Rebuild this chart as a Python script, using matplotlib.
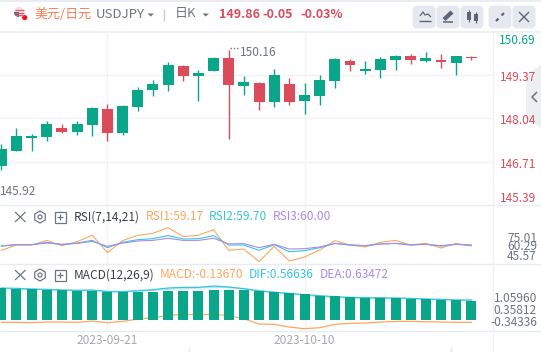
import matplotlib
matplotlib.use('Agg')
import matplotlib.pyplot as plt
from matplotlib.patches import FancyBboxPatch, Polygon, Circle, Rectangle, RegularPolygon, Wedge

plt.rcParams['font.family'] = ['Noto Sans CJK SC', 'DejaVu Sans']

# ---------- data ----------
opens  = [146.57,147.03,147.43,147.46,147.74,147.62,147.83,148.33,147.59,148.39,148.92,149.07,149.66,149.35,149.50,149.91,
          149.04,149.13,148.55,149.10,148.58,148.73,149.19,149.81,149.50,149.53,149.84,149.97,149.81,149.84,149.75,149.94]
closes = [147.09,147.49,147.49,147.86,147.62,147.86,148.36,147.59,148.42,148.92,149.10,149.69,149.35,149.44,149.91,149.07,
          149.16,148.55,149.38,148.55,148.76,149.23,149.88,149.69,149.57,149.88,149.97,149.84,149.91,149.78,149.97,149.91]
highs  = [147.25,147.74,147.56,147.96,147.86,147.96,148.39,148.48,148.45,149.01,149.23,149.78,149.69,149.53,149.94,150.16,
          149.35,149.16,149.57,149.29,149.13,149.38,149.91,149.88,149.81,149.94,150.00,150.03,150.09,150.03,149.97,149.97]
lows   = [146.44,147.03,147.03,147.34,147.58,147.52,147.49,147.34,147.52,148.27,148.73,148.89,149.19,148.58,149.50,147.40,
          148.76,148.30,148.39,148.45,148.17,148.45,148.98,149.50,149.41,149.29,149.53,149.72,149.78,149.60,149.38,149.84]

rsi1 = [55.4,60.0,60.0,64.0,59.4,62.9,68.4,53.4,63.8,68.4,70.1,75.0,67.2,68.4,73.3,55.4,
        56.5,45.6,58.8,46.1,49.6,55.7,63.8,60.0,58.3,62.3,64.0,60.0,61.4,57.4,61.4,59.17]
rsi2 = [59.1,60.3,60.3,62.3,60.3,61.7,64.0,57.7,62.3,64.6,65.5,68.1,65.2,65.5,68.1,60.0,
        60.0,55.4,60.3,54.2,55.1,57.7,61.4,60.0,59.4,60.9,61.4,60.0,60.6,59.1,60.6,59.70]
rsi3 = [59.1,60.3,60.3,61.7,60.6,61.4,63.2,58.8,61.7,63.5,64.0,65.8,64.0,64.0,65.8,60.9,
        61.2,57.7,60.6,56.5,56.8,58.3,61.4,60.0,59.4,60.9,61.4,60.3,60.6,59.4,60.6,60.00]

macd_bars = [.909,.890,.881,.862,.852,.833,.833,.805,.805,.795,.795,.824,.824,.824,.852,.852,
             .862,.824,.795,.767,.739,.682,.682,.653,.625,.625,.625,.597,.597,.568,.568,.540]
dif = [.909,.900,.881,.871,.852,.843,.852,.805,.805,.833,.862,.909,.928,.928,.966,.938,
       .890,.824,.786,.758,.720,.691,.663,.644,.634,.634,.625,.616,.597,.587,.568,.566]
dea = [.890,.881,.871,.862,.852,.843,.843,.824,.814,.824,.843,.871,.890,.909,.928,.919,
       .890,.843,.795,.748,.701,.663,.634,.625,.616,.616,.606,.606,.587,.578,.568,.568]
macd = [-.066,-.066,-.076,-.057,-.057,-.066,-.028,-.076,-.038,.028,.066,.133,.161,.152,.161,.123,
        .038,-.114,-.123,-.199,-.246,-.218,-.123,-.095,-.085,-.057,-.038,-.038,-.047,-.057,-.066,-.066]

price_ticks = [149.37, 148.04, 146.71]
date_ticks = [7, 20]
date_labels = ['2023-09-21', '2023-10-10']

# ---------- style ----------
W, H = 541, 352
GREEN, RED = '#0aa68a', '#db4c5b'
ORANGE, CYAN, PURPLE = '#ffa65e', '#35c5e2', '#a98be8'
GRID, GREY, DARK = '#f2f3f6', '#6f7484', '#3a3f4c'

fig = plt.figure(figsize=(W/100, H/100), dpi=100, facecolor='white')

def panel(top, bottom):
    ax = fig.add_axes([0, 1-bottom/H, 493/W, (bottom-top)/H])
    ax.set_facecolor('none')
    ax.set_xticks([]); ax.set_yticks([])
    for s in ax.spines.values():
        s.set_visible(False)
    ax.set_xlim(-0.086, 32.43)
    for t in date_ticks:
        ax.axvline(t, color=GRID, lw=1.0, zorder=0)
    return ax

# main candles
ax = panel(32, 205.3)
ax.set_ylim(145.36, 150.71)
for p in price_ticks:
    ax.axhline(p, color=GRID, lw=1.0, zorder=0)
for i, (o, c, h, l) in enumerate(zip(opens, closes, highs, lows)):
    col = GREEN if c >= o else RED
    ax.vlines(i, l, h, color=col, lw=1.0, zorder=2)
    ax.bar(i, abs(c-o), bottom=min(o, c), width=0.72, color=col, zorder=3)

# RSI
ax2 = panel(205.3, 263.7)
ax2.set_ylim(43.8, 94.4)
x = range(len(rsi1))
ax2.plot(x, rsi1, color=ORANGE, lw=0.8)
ax2.plot(x, rsi2, color=CYAN, lw=0.8)
ax2.plot(x, rsi3, color=PURPLE, lw=0.8)

# MACD
ax3 = panel(263.7, 331.3)
ax3.set_ylim(-0.32, 1.6)
ax3.plot(x, dea, color='#b5e5f1', lw=0.9, zorder=1)
ax3.plot(x, dif, color=CYAN, lw=0.9, zorder=1)
ax3.plot(x, macd, color=ORANGE, lw=0.9, zorder=1)
ax3.bar(x, macd_bars, width=0.66, color=GREEN, zorder=3)

# ---------- overlay in pixel coordinates ----------
ov = fig.add_axes([0, 0, 1, 1], facecolor='none')
ov.set_xlim(0, W); ov.set_ylim(H, 0); ov.axis('off')

def T(x, y, s, c=GREY, fs=8.6, ha='left', **k):
    ov.text(x, y, s, color=c, fontsize=fs, ha=ha, va='center', **k)

def L(xs, ys, c='#e9ebf0', lw=1.0, **k):
    ov.plot(xs, ys, color=c, lw=lw, solid_capstyle='butt', **k)

# frame lines
L([0, W], [0.5, 0.5], '#e6e9f2', 1.2)
L([0, W], [31.5, 31.5], '#f0f1f4', 1.4)
L([0, W], [205.3, 205.3]); L([0, W], [263.7, 263.7]); L([0, W], [331.3, 331.3])
L([493.4, 493.4], [32, 352], '#eff0f3')
L([188.5, 188.5], [347, 352], '#e6e8ee'); L([450.5, 450.5], [347, 352], '#e6e8ee')

# collapse tab
ov.add_patch(Polygon([(526, 75), (541, 65), (541, 128), (526, 118)], fc='#eeeff2', ec='none'))
L([537, 532, 537], [92, 97, 102], '#6f7484', 1.1)

# flag
ov.add_patch(Circle((19, 12), 5, fc='#f3dede', ec='none'))
for yy in (9.5, 12.5, 15):
    L([14.5, 23.5], [yy, yy], '#d8606c', 0.9)
ov.add_patch(Wedge((19, 12), 5, 90, 180, fc='#4f5a92', ec='none'))
ov.add_patch(Circle((24.7, 17.6), 2.6, fc='#f40f14', ec='none'))

# header
T(34.5, 14, '美元/日元', '#ff7d55', 9.4)
T(96, 14, 'USDJPY', GREY, 9.5)
ov.add_patch(Polygon([(147.5, 13.5), (154, 13.5), (150.7, 16.5)], fc=GREY, ec='none'))
L([164.3, 164.3], [9, 21], '#c9ccd4')
T(174.5, 14, '日K', GREY, 9.4)
ov.add_patch(Polygon([(202.5, 13.5), (209, 13.5), (205.7, 16.5)], fc=GREY, ec='none'))
T(219, 14, '149.86', RED, 9.0, weight='bold')
T(262, 14, '-0.05', RED, 9.0, weight='bold')
T(300, 14, '-0.03%', RED, 9.0, weight='bold')

# toolbar
for bx in (414, 438, 462, 490, 514):
    ov.add_patch(FancyBboxPatch((bx+2, 9), 16, 16, boxstyle='round,pad=0,rounding_size=1', mutation_aspect=1,
                                fc='#e6e8ef', ec='#e6e8ef', lw=5))
L([420, 423, 425, 428, 431], [16, 12, 15, 14, 17], '#5f6475', 0.9)
L([419, 431], [21, 21], '#5f6475', 1.0)
L([444, 452], [19.5, 12], '#5f6475', 3.0)
L([443, 453], [21.5, 21.5], '#5f6475', 1.1)
ov.add_patch(Rectangle((467, 12), 4, 8, fc='#5f6475', ec='none')); L([469, 469], [10, 22], '#5f6475', 0.8)
ov.add_patch(Rectangle((474, 14), 4, 7, fc='#5f6475', ec='none')); L([476, 476], [12, 23], '#5f6475', 0.8)
L([496, 498.5], [21, 18.5], '#5f6475', 1.6); L([501.5, 504], [15.5, 13], '#5f6475', 1.6)
L([519, 529], [12, 22], '#5f6475', 1.0); L([519, 529], [22, 12], '#5f6475', 1.0)

# price annotations
L([229.5, 237.5], [47.5, 47.5], '#6f7484', 1.0, ls=(0, (1, 1.4)))
T(240, 52, '150.16', GREY)
T(0, 191.5, '145.92', GREY)

# axis labels
T(536, 41, '150.69', GREEN, ha='right')
for yy, s in zip((77.5, 120.5, 164.5, 198), ('149.37', '148.04', '146.71', '145.39')):
    T(536, yy, s, RED, ha='right')
for yy, s in zip((239, 247, 256), ('75.01', '60.29', '45.57')):
    T(537, yy, s, GREY, ha='right')
for yy, s in zip((298, 310, 323), ('1.05960', '0.35812', '-0.34336')):
    T(537, yy, s, GREY, ha='right')

# panel tools and legends
for yy in (217, 275):
    L([15, 25.5], [yy-5, yy+5], GREY, 0.9); L([15, 25.5], [yy+5, yy-5], GREY, 0.9)
    ov.add_patch(RegularPolygon((40, yy), 6, radius=6, fc='none', ec=GREY, lw=0.9))
    ov.add_patch(Circle((40, yy), 2, fc='none', ec=GREY, lw=0.9))
    ov.add_patch(Rectangle((54.5, yy-5.5), 11, 11, fc='none', ec=GREY, lw=0.9))
    L([57, 63], [yy, yy], GREY, 0.9); L([60, 60], [yy-3, yy+3], GREY, 0.9)

T(74, 217, 'RSI(7,14,21)', DARK)
T(145.5, 217, 'RSI1:59.17', ORANGE)
T(209, 217, 'RSI2:59.70', CYAN)
T(272.5, 217, 'RSI3:60.00', PURPLE)
T(74, 275, 'MACD(12,26,9)', DARK)
T(160, 275, 'MACD:-0.13670', ORANGE)
T(249, 275, 'DIF:0.56636', CYAN)
T(319.5, 275, 'DEA:0.63472', PURPLE)

# date labels from the shared x scale
for t, s in zip(date_ticks, date_labels):
    T(1.3 + 15.16*t, 340.5, s, '#a5a8b5', ha='center')

fig.savefig('out.png', dpi=100, facecolor='white')
